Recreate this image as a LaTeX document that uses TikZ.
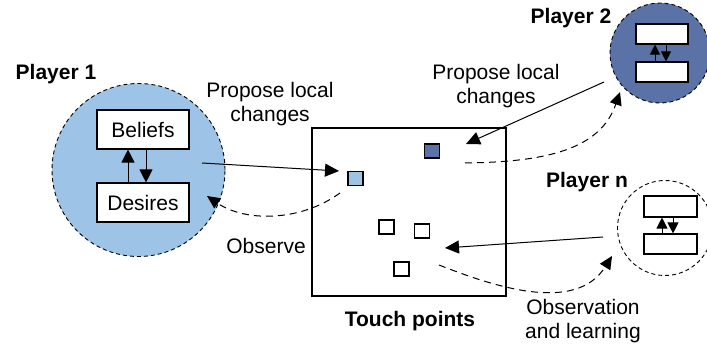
\documentclass[tikz,border=0pt]{standalone}
\usepackage{fontspec}
\setmainfont{Liberation Sans}
\usetikzlibrary{arrows.meta}
\definecolor{lightblue}{RGB}{157,195,230}
\definecolor{darkblue}{RGB}{91,114,166}

\begin{document}
\begin{tikzpicture}[x=1pt,y=-1pt,
  font=\fontsize{21}{24}\selectfont,
  player/.style={circle, draw, dash pattern=on 4pt off 3pt, line width=0.9pt,
    inner sep=0pt, minimum size=#1},
  mindbox/.style={draw, fill=white, line width=1.1pt, inner sep=0pt,
    minimum width=#1},
  token/.style={draw, line width=1.1pt, inner sep=0pt, minimum width=15pt,
    minimum height=14pt},
  title/.style={font=\fontsize{21}{24}\selectfont\bfseries},
  label/.style={align=center},
  move/.style={line width=1pt, -{Triangle[length=14pt,width=13pt]}},
  watch/.style={line width=1pt, dash pattern=on 7pt off 5pt,
    -{Triangle[length=13pt,width=12pt]}},
  link/.style={line width=1pt, -{Triangle[length=#1,width=#1]}}
]
\useasboundingbox (0,0) rectangle (707,344);

% Player 1 and its mind
\node[player=173pt, fill=lightblue] (p1) at (138.5,170) {};
\node[mindbox=92pt, minimum height=39pt] (beliefs) at (143,129.5) {Beliefs};
\node[mindbox=92pt, minimum height=39pt] (desires) at (143,202.5) {Desires};
\draw[link=13pt] ([xshift=-15pt]desires.north) -- ([xshift=-15pt]beliefs.south);
\draw[link=13pt] ([xshift=3pt]beliefs.south) -- ([xshift=3pt]desires.north);
\node[title] (t1) at (56,74) {Player 1};

% Player 2
\node[player=100pt, fill=darkblue] (p2) at (660,53) {};
\node[mindbox=52pt, minimum height=20pt] (b2) at (662,34) {};
\node[mindbox=52pt, minimum height=20pt] (d2) at (662,72) {};
\draw[link=10pt] ([xshift=-7pt]d2.north) -- ([xshift=-7pt]b2.south);
\draw[link=10pt] ([xshift=4pt]b2.south) -- ([xshift=4pt]d2.north);
\node[title] (t2) at (571,18) {Player 2};

% Player n
\node[player=95pt] (pn) at (665,228) {};
\node[mindbox=53pt, minimum height=21pt] (bn) at (670.5,206.5) {};
\node[mindbox=53pt, minimum height=20pt] (dn) at (670.5,244) {};
\draw[link=11pt] ([xshift=-8.5pt]dn.north) -- ([xshift=-8.5pt]bn.south);
\draw[link=11pt] ([xshift=2.5pt]bn.south) -- ([xshift=2.5pt]dn.north);
\node[title] (tn) at (587,182) {Player n};

% Shared touch points
\node[draw, line width=1.1pt, minimum width=194pt, minimum height=168pt,
  inner sep=0pt] (touch) at (409,212) {};
\node[token, fill=lightblue] (sq1) at (355.5,178.5) {};
\node[token, fill=darkblue] (sq2) at (432,151) {};
\node[token] (sq3) at (386.5,227) {};
\node[token] (sq4) at (422,231) {};
\node[token] (sq5) at (401.5,269) {};
\node[title] (tt) at (410,321) {Touch points};

% Labels
\node[label] (prop1) at (270,104) {Propose local\\changes};
\node[label] (prop2) at (496,86) {Propose local\\changes};
\node[label] (obs) at (266,246) {Observe};
\node[label] (obsl) at (583,321) {Observation\\and learning};

% Free ends of the connectors
\coordinate (p1out) at (202,163);
\coordinate (sq1in) at (339,171);
\coordinate (p2out) at (604,82);
\coordinate (sq2in) at (466,144);
\coordinate (pnout) at (603,237);
\coordinate (touchin) at (445,248);
\coordinate (obs1from) at (340,193);
\coordinate (obs1to) at (207,196);
\coordinate (obs2from) at (465,163);
\coordinate (obs2to) at (620,92);
\coordinate (obs3from) at (439,265);
\coordinate (obs3to) at (612,256);

% Proposals
\draw[move] (p1out) -- (sq1in);
\draw[move] (p2out) -- (sq2in);
\draw[move] (pnout) -- (touchin);

% Observation
\draw[watch] (obs1from) .. controls (300,222) and (245,222) .. (obs1to);
\draw[watch] (obs2from) .. controls (545,162) and (600,150) .. (obs2to);
\draw[watch] (obs3from) .. controls (490,285) and (575,315) .. (obs3to);
\end{tikzpicture}
\end{document}
